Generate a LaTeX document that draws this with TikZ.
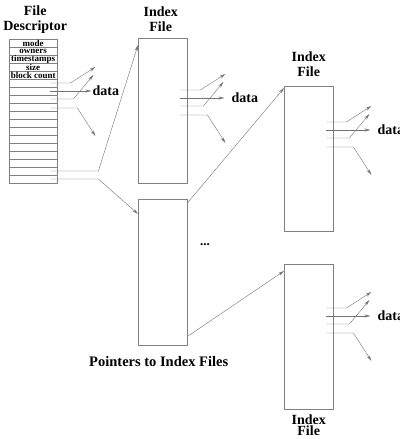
\documentclass[tikz,border=0pt]{standalone}
\usepackage{fontspec}
\setmainfont{Liberation Serif}
\usetikzlibrary{arrows.meta,positioning}
\begin{document}
\begin{tikzpicture}
            [x=1pt, y=-1pt,
             filebox/.style = {draw=gray, minimum width=49pt, minimum height=145pt, inner sep=0pt, anchor=north west},
             link/.style = {draw=black!55, -{Stealth[length=6pt, width=3pt]}},
             title/.style = {font=\fontsize{14}{15}\selectfont\bfseries, align=center, inner sep=0pt},
             field/.style = {font=\fontsize{9}{9}\selectfont\bfseries, inner sep=0pt},
             datalabel/.style = {font=\fontsize{14}{15}\selectfont\bfseries, inner sep=0pt, anchor=west}]
            \useasboundingbox (0,0) rectangle (399,439);
            % boxes
            \node[filebox, minimum width=48pt, minimum height=144pt] (fd) at (9,39) {};
            \node[filebox] (idxA) at (138,38) {};
            \node[filebox, minimum height=146pt] (ptrs) at (138,199) {};
            \node[filebox] (idxB) at (284,86) {};
            \node[filebox] (idxC) at (284,264) {};
            % titles
            \node[title, above=5pt of fd, xshift=2pt] (fdT) {File\\Descriptor};
            \node[title, above=6pt of idxA, xshift=-2pt] (idxAT) {Index\\File};
            \node[title, above=9pt of idxB] (idxBT) {Index\\File};
            \node[title, font=\fontsize{14}{11.5}\selectfont\bfseries, below=5pt of idxC] (idxCT) {Index\\File};
            \node[title, font=\fontsize{14.5}{15}\selectfont\bfseries, below=11pt of ptrs, xshift=-4pt] (ptrsT) {Pointers to Index Files};
            \node[font=\fontsize{13}{14}\selectfont\bfseries, inner sep=0pt, anchor=base] (more) at (205,245) {...};
            % descriptor rows
            \foreach \r in {1,...,17}
                \draw[gray] (fd.west |- 0,39+8*\r) -- (fd.east |- 0,39+8*\r);
            \foreach \t [count=\i] in {mode, owners, timestamps, size, block count}
                \node[field] (field\i) at (fd.north |- 0,35+8*\i) {\t};
            % pointers to data
            \foreach \f/\y/\dx/\gap in {fd/83/35/1, idxA/90/44/7, idxB/122/44/7, idxC/308/44/7} {
                \node[datalabel] (\f data) at ([xshift=\dx pt]\f.east |- 0,\y+8) {data};
                \draw[link] ([xshift=-7pt]\f.east |- 0,\y) -- ++(20,0) -- ++(25,-16);
                \draw[link, shorten >=\gap pt] ([xshift=-7pt]\f.east |- 0,\y+8) -- (\f data.west);
                \draw[link] ([xshift=-7pt]\f.east |- 0,\y+16) -- ++(23,0) -- ++(20,-24);
                \draw[link] ([xshift=-7pt]\f.east |- 0,\y+25) -- ++(27,0) -- ++(18,28);
            }
            % pointers to index files
            \draw[link] ([xshift=-7pt]fd.east |- 0,171) -- ++(48,0) -- ([yshift=-7pt]idxA.north west);
            \draw[link] ([xshift=-7pt]fd.east |- 0,179) -- ++(48,0) -- ([yshift=-15pt]ptrs.north west);
            \draw[link] ([yshift=-4pt]ptrs.north east) -- ([yshift=-2pt]idxB.north west);
            \draw[link] ([yshift=9pt]ptrs.south east) -- ([yshift=-7pt]idxC.north west);
\end{tikzpicture}
\end{document}
